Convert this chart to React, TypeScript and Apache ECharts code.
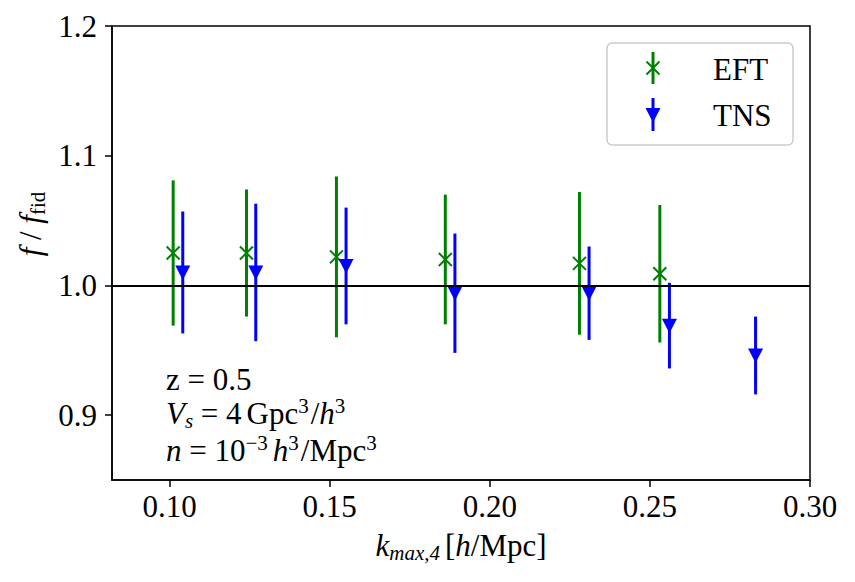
import React, { useEffect, useRef } from "react";
import * as echarts from "echarts";

// Axis ranges and tick positions
const K_MIN = 0.082;
const K_MAX = 0.3;
const F_MIN = 0.85;
const F_MAX = 1.2;
const X_TICKS = [0.1, 0.15, 0.2, 0.25, 0.3];
const Y_TICKS = [0.9, 1.0, 1.1, 1.2];
const F_FID = 1.0;

// EFT model: k_max, f/f_fid, 1-sigma error
const EFT_K = [0.1011, 0.124, 0.1521, 0.1861, 0.228, 0.2531];
const EFT_F = [1.025, 1.025, 1.022, 1.02, 1.017, 1.009];
const EFT_ERR = [0.056, 0.049, 0.062, 0.05, 0.055, 0.053];

// TNS model: k_max, f/f_fid, 1-sigma error
const TNS_K = [0.1041, 0.1269, 0.1551, 0.1891, 0.231, 0.2561, 0.283];
const TNS_F = [1.01, 1.01, 1.015, 0.994, 0.994, 0.969, 0.946];
const TNS_ERR = [0.047, 0.053, 0.045, 0.046, 0.036, 0.033, 0.03];

const GREEN = "#008000";
const BLUE = "#0000ff";
const SERIF = '"Liberation Serif", "Times New Roman", serif';
const FS = 31;
const FS_SMALL = 21;

const rich = {
  rm: { fontFamily: SERIF, fontSize: FS, color: "#000", lineHeight: 36 },
  it: { fontFamily: SERIF, fontSize: FS, fontStyle: "italic", color: "#000", lineHeight: 36 },
  sup: { fontFamily: SERIF, fontSize: FS_SMALL, color: "#000", lineHeight: 23, verticalAlign: "top" },
  supit: { fontFamily: SERIF, fontSize: FS_SMALL, fontStyle: "italic", color: "#000", lineHeight: 23, verticalAlign: "top" },
  sub: { fontFamily: SERIF, fontSize: FS_SMALL, color: "#000", lineHeight: 19, verticalAlign: "bottom" },
  subit: { fontFamily: SERIF, fontSize: FS_SMALL, fontStyle: "italic", color: "#000", lineHeight: 19, verticalAlign: "bottom" },
  // thin spaces
  sp: { fontFamily: SERIF, fontSize: FS, lineHeight: 36, width: 5 },
  sp2: { fontFamily: SERIF, fontSize: FS, lineHeight: 36, width: 2 },
};

function errorBar(kind: "cross" | "tri") {
  const color = kind === "cross" ? GREEN : BLUE;
  return (_params: any, api: any) => {
    const x = api.value(0);
    const y = api.value(1);
    const e = api.value(2);
    const top = api.coord([x, y + e]);
    const bot = api.coord([x, y - e]);
    const c = api.coord([x, y]);
    const children: any[] = [
      {
        type: "line",
        shape: { x1: top[0], y1: top[1], x2: bot[0], y2: bot[1] },
        style: { stroke: color, lineWidth: 3 },
      },
    ];
    if (kind === "cross") {
      const s = 6.5;
      children.push(
        {
          type: "line",
          shape: { x1: c[0] - s, y1: c[1] - s, x2: c[0] + s, y2: c[1] + s },
          style: { stroke: color, lineWidth: 2 },
        },
        {
          type: "line",
          shape: { x1: c[0] - s, y1: c[1] + s, x2: c[0] + s, y2: c[1] - s },
          style: { stroke: color, lineWidth: 2 },
        }
      );
    } else {
      children.push({
        type: "polygon",
        shape: {
          points: [
            [c[0] - 7.5, c[1] - 7],
            [c[0] + 7.5, c[1] - 7],
            [c[0], c[1] + 7.5],
          ],
        },
        style: { fill: color },
      });
    }
    return { type: "group", children };
  };
}

function legendGraphics() {
  const cx = 653;
  const s = 6.5;
  return [
    {
      type: "rect",
      z: 100,
      shape: { x: 607, y: 43, width: 186, height: 102, r: 5 },
      style: { fill: "rgba(255,255,255,0.8)", stroke: "#cccccc", lineWidth: 1.5 },
    },
    { type: "line", z: 101, shape: { x1: cx, y1: 52, x2: cx, y2: 84 }, style: { stroke: GREEN, lineWidth: 3 } },
    { type: "line", z: 101, shape: { x1: cx - s, y1: 68 - s, x2: cx + s, y2: 68 + s }, style: { stroke: GREEN, lineWidth: 2 } },
    { type: "line", z: 101, shape: { x1: cx - s, y1: 68 + s, x2: cx + s, y2: 68 - s }, style: { stroke: GREEN, lineWidth: 2 } },
    { type: "line", z: 101, shape: { x1: cx, y1: 98, x2: cx, y2: 131 }, style: { stroke: BLUE, lineWidth: 3 } },
    {
      type: "polygon",
      z: 101,
      shape: { points: [[cx - 7.5, 108], [cx + 7.5, 108], [cx, 122.5]] },
      style: { fill: BLUE },
    },
    {
      type: "text",
      z: 101,
      x: 713,
      y: 69,
      style: { text: "EFT", fontFamily: SERIF, fontSize: FS, fill: "#000", align: "left", verticalAlign: "middle" },
    },
    {
      type: "text",
      z: 101,
      x: 713,
      y: 115,
      style: { text: "TNS", fontFamily: SERIF, fontSize: FS, fill: "#000", align: "left", verticalAlign: "middle" },
    },
  ];
}

function annotation(text: string, y: number) {
  return {
    type: "text",
    z: 50,
    x: 166,
    y,
    style: { text, rich, align: "left", verticalAlign: "middle" },
  };
}

export default function App() {
  const ref = useRef<HTMLDivElement>(null);

  useEffect(() => {
    if (!ref.current) return;
    const chart = echarts.init(ref.current, null, { renderer: "svg" });

    const axisCommon = {
      type: "value",
      splitLine: { show: false },
      axisLine: { show: true, lineStyle: { color: "#000", width: 1.5 } },
    };

    chart.setOption({
      animation: false,
      backgroundColor: "#ffffff",
      grid: {
        left: 112,
        right: 45,
        top: 26,
        bottom: 102,
        show: true,
        borderColor: "#000",
        borderWidth: 1.5,
        backgroundColor: "transparent",
      },
      xAxis: {
        ...axisCommon,
        min: K_MIN,
        max: K_MAX,
        axisTick: {
          show: true,
          inside: false,
          length: 7,
          lineStyle: { color: "#000", width: 1.5 },
          customValues: X_TICKS,
        },
        axisLabel: {
          customValues: X_TICKS,
          formatter: (v: number) => v.toFixed(2),
          fontFamily: SERIF,
          fontSize: FS,
          color: "#000",
          margin: 11,
        },
        name: "{it|k}{subit|max,4}{sp| }{rm|[}{it|h}{rm|/Mpc]}",
        nameLocation: "middle",
        nameGap: 47,
        nameTextStyle: { rich },
      },
      yAxis: {
        ...axisCommon,
        min: F_MIN,
        max: F_MAX,
        axisTick: {
          show: true,
          inside: false,
          length: 7,
          lineStyle: { color: "#000", width: 1.5 },
          customValues: Y_TICKS,
        },
        axisLabel: {
          customValues: Y_TICKS,
          formatter: (v: number) => v.toFixed(1),
          fontFamily: SERIF,
          fontSize: FS,
          color: "#000",
          margin: 15,
        },
      },
      graphic: [
        {
          type: "text",
          x: 30,
          y: 224,
          rotation: Math.PI / 2,
          style: {
            text: "{it|f}{rm| / }{it|f}{sub|fid}",
            rich,
            align: "center",
            verticalAlign: "middle",
          },
        },
        annotation("{rm|z = 0.5}", 379),
        annotation(
          "{it|V}{subit|s}{rm| = 4}{sp| }{rm|Gpc}{sup|3}{sp2| }{rm|/}{it|h}{sup|3}",
          413
        ),
        annotation(
          "{it|n}{rm| = 10}{sup|\u22123}{sp| }{it|h}{sup|3}{sp2| }{rm|/Mpc}{sup|3}",
          450
        ),
        ...legendGraphics(),
      ],
      series: [
        {
          name: "EFT",
          type: "custom",
          renderItem: errorBar("cross"),
          encode: { x: 0, y: 1 },
          data: EFT_K.map((k, i) => [k, EFT_F[i], EFT_ERR[i]]),
          z: 2,
        },
        {
          name: "TNS",
          type: "custom",
          renderItem: errorBar("tri"),
          encode: { x: 0, y: 1 },
          data: TNS_K.map((k, i) => [k, TNS_F[i], TNS_ERR[i]]),
          z: 3,
        },
        {
          name: "fid",
          type: "line",
          data: [],
          z: 10,
          markLine: {
            silent: true,
            symbol: "none",
            label: { show: false },
            lineStyle: { color: "#000", width: 2, type: "solid" },
            data: [{ yAxis: F_FID }],
          },
        },
      ],
    });

    return () => chart.dispose();
  }, []);

  return (
    <div
      ref={ref}
      style={{ position: "absolute", left: 0, top: 0, width: 855, height: 582 }}
    />
  );
}
